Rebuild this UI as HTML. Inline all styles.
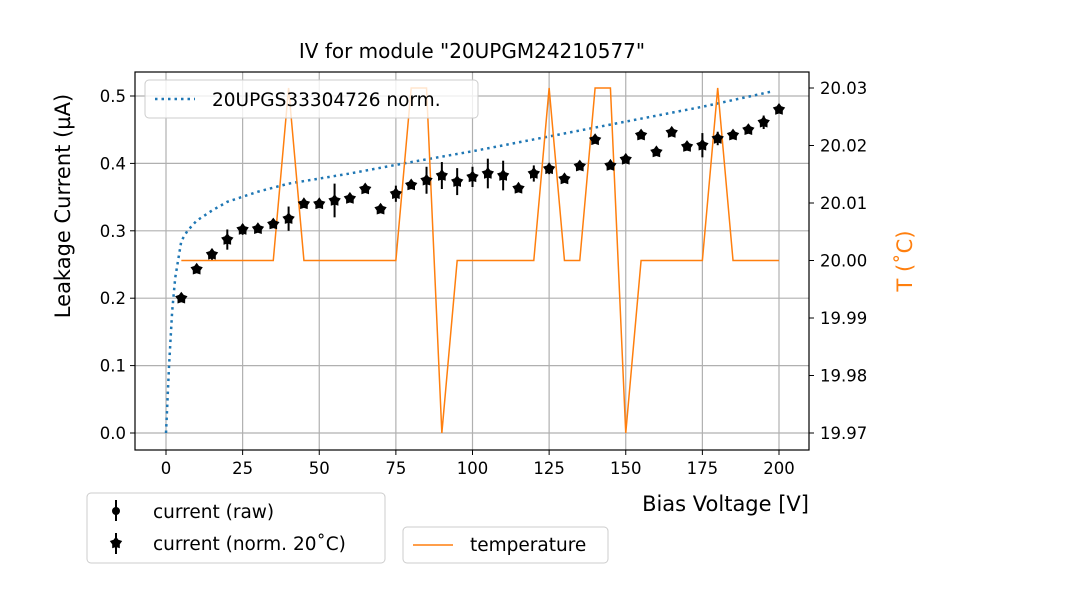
<!DOCTYPE html>
<html><head><meta charset="utf-8"><style>
body{margin:0;background:#fff;}
svg{display:block;font-family:"DejaVu Sans","Liberation Sans",sans-serif;}
</style></head><body>
<svg id="chart" width="1080" height="600" viewBox="0 0 1080 600">
<text x="472" y="58" text-anchor="middle" font-size="20">IV for module "20UPGM24210577"</text>
<g id="grid"></g>
<g id="marks"></g>
<rect x="135" y="72" width="674" height="378" fill="none" stroke="#000" stroke-width="1.2"/>
<g id="axes"></g>
<text x="809" y="511" text-anchor="end" font-size="21">Bias Voltage [V]</text>
<text transform="translate(70,206) rotate(-90)" text-anchor="middle" font-size="21">Leakage Current (µA)</text>
<text transform="translate(912,261) rotate(-90)" text-anchor="middle" font-size="21" fill="#ff7f0e">T (˚C)</text>
<g>
<rect x="145" y="80" width="333" height="38" rx="4" fill="#fff" fill-opacity="0.8" stroke="#ccc"/>
<line x1="155" y1="99" x2="195" y2="99" stroke="#1f77b4" stroke-width="2.5" stroke-dasharray="2.5,4"/>
<text x="212" y="106" font-size="18.5">20UPGS33304726 norm.</text>
</g>
<g>
<rect x="87" y="493" width="298" height="70" rx="4" fill="#fff" stroke="#ccc"/>
<line x1="116" y1="500" x2="116" y2="521" stroke="#000" stroke-width="2"/>
<circle cx="116" cy="511" r="4"/>
<text x="153" y="518" font-size="18.5">current (raw)</text>
<line x1="116" y1="533" x2="116" y2="554" stroke="#000" stroke-width="2"/>
<polygon id="legstar" fill="#000"/>
<text x="153" y="550" font-size="18.5">current (norm. 20˚C)</text>
</g>
<g>
<rect x="403" y="527" width="205" height="36" rx="4" fill="#fff" stroke="#ccc"/>
<line x1="413" y1="545" x2="453" y2="545" stroke="#ff7f0e" stroke-width="1.5"/>
<text x="470" y="551" font-size="18.5">temperature</text>
</g>
</svg>
<script>
const voltages=[5,10,15,20,25,30,35,40,45,50,55,60,65,70,75,80,85,90,95,100,105,110,115,120,125,130,135,140,145,150,155,160,165,170,175,180,185,190,195,200];
const currents=[0.200,0.243,0.265,0.287,0.302,0.303,0.310,0.318,0.340,0.340,0.345,0.348,0.362,0.332,0.355,0.368,0.375,0.382,0.373,0.380,0.385,0.382,0.363,0.385,0.392,0.377,0.396,0.435,0.397,0.406,0.442,0.417,0.446,0.425,0.427,0.437,0.442,0.450,0.461,0.480];
const currentErr=[0.005,0.005,0.008,0.015,0.008,0.005,0.005,0.018,0.005,0.005,0.025,0.005,0.005,0.005,0.012,0.005,0.02,0.02,0.02,0.015,0.022,0.022,0.005,0.012,0.008,0.005,0.005,0.005,0.005,0.005,0.005,0.005,0.005,0.005,0.018,0.01,0.005,0.005,0.01,0.005];
const temps=[20,20,20,20,20,20,20,20.03,20,20,20,20,20,20,20,20.03,20.03,19.97,20,20,20,20,20,20,20.03,20,20,20.03,20.03,19.97,20,20,20,20,20,20.03,20,20,20,20];
const refV=[0,1,2,3,5,7,10,15,20,30,40,60,80,100,125,150,175,198];
const refI=[0,0.1,0.18,0.23,0.285,0.30,0.315,0.33,0.343,0.358,0.37,0.385,0.402,0.418,0.44,0.462,0.484,0.507];
const xTicks=[0,25,50,75,100,125,150,175,200];
const yTicks=[0.0,0.1,0.2,0.3,0.4,0.5];
const tTicks=[19.97,19.98,19.99,20.00,20.01,20.02,20.03];
const X=v=>166+v*(779-166)/200;
const Y=i=>433-i*(433-96)/0.5;
const T=t=>433-(t-19.97)*(433-88)/0.06;
const NS='http://www.w3.org/2000/svg';
function mk(tag,attrs,parent){const e=document.createElementNS(NS,tag);for(const k in attrs)e.setAttribute(k,attrs[k]);document.getElementById(parent).appendChild(e);return e;}
function star(cx,cy,r){let p=[];for(let k=0;k<10;k++){const a=-Math.PI/2+k*Math.PI/5;const rr=k%2?r*0.62:r;p.push((cx+rr*Math.cos(a)).toFixed(1)+','+(cy+rr*Math.sin(a)).toFixed(1));}return p.join(' ');}
document.getElementById('legstar').setAttribute('points',star(116,543,6.5));
xTicks.forEach(v=>{
 const g=mk('line',{x1:X(v),x2:X(v),y1:72,y2:450,stroke:'#b0b0b0','stroke-width':1.2},'grid');
 
 
 mk('line',{x1:X(v),x2:X(v),y1:450,y2:455,stroke:'#000'},'axes');
 const t=mk('text',{x:X(v),y:474,'text-anchor':'middle','font-size':16.5},'axes');t.textContent=v;
 
 
});
yTicks.forEach(v=>{
 const g=mk('line',{x1:135,x2:809,y1:Y(v),y2:Y(v),stroke:'#b0b0b0','stroke-width':1.2},'grid');
 
 
 mk('line',{x1:130,x2:135,y1:Y(v),y2:Y(v),stroke:'#000'},'axes');
 const t=mk('text',{x:126,y:Y(v)+6,'text-anchor':'end','font-size':16.5},'axes');t.textContent=v.toFixed(1);
 
 
});
tTicks.forEach(v=>{
 mk('line',{x1:809,x2:814,y1:T(v),y2:T(v),stroke:'#000'},'axes');
 const t=mk('text',{x:820,y:T(v)+6,'font-size':16.5},'axes');t.textContent=v.toFixed(2);
 
 
});
const ref=mk('polyline',{points:refV.map((v,i)=>X(v)+','+Y(refI[i])).join(' '),fill:'none',stroke:'#1f77b4','stroke-width':2.5,'stroke-dasharray':'2.5,4'},'marks');


const tl=mk('polyline',{points:voltages.map((v,i)=>X(v)+','+T(temps[i])).join(' '),fill:'none',stroke:'#ff7f0e','stroke-width':1.5},'marks');


voltages.forEach((v,i)=>{
 const e=mk('line',{x1:X(v),x2:X(v),y1:Y(currents[i]-currentErr[i]),y2:Y(currents[i]+currentErr[i]),stroke:'#000','stroke-width':2},'marks');
 
 
 const s=mk('polygon',{points:star(X(v),Y(currents[i]),6.5),fill:'#000'},'marks');
 
 
});
</script>
</body></html>
